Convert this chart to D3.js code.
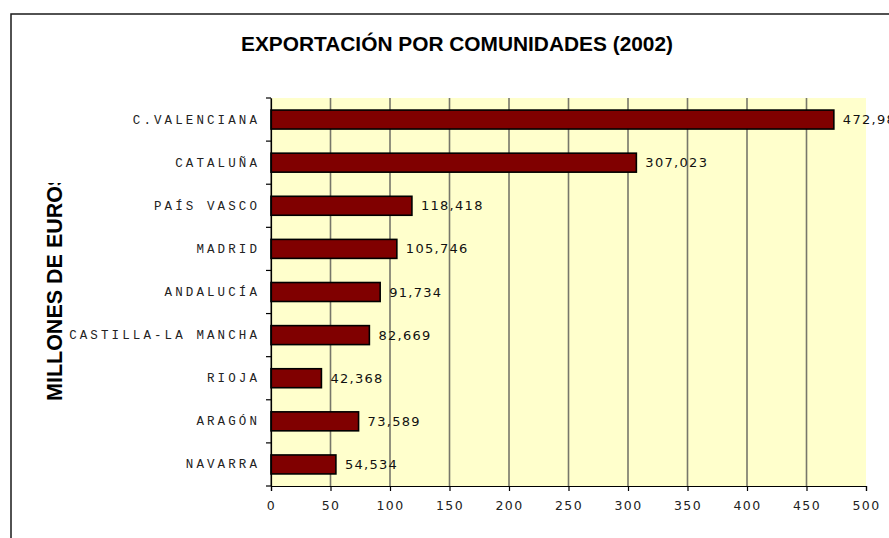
<!DOCTYPE html>
<html>
<head>
<meta charset="utf-8">
<script src="https://cdn.jsdelivr.net/npm/d3@7"></script>
<style>
  html, body { margin: 0; padding: 0; background: #ffffff; }
  svg { display: block; }
</style>
</head>
<body>
<div id="chart"></div>
<script>
// Exportaciones por comunidad autónoma, 2002 (millones de euros)
const categories = ["C.VALENCIANA", "CATALUÑA", "PAÍS VASCO", "MADRID", "ANDALUCÍA",
                    "CASTILLA-LA MANCHA", "RIOJA", "ARAGÓN", "NAVARRA"];
const values = [472.98, 307.023, 118.418, 105.746, 91.734, 82.669, 42.368, 73.589, 54.534];
const xTicks = [0, 50, 100, 150, 200, 250, 300, 350, 400, 450, 500];
const titleText = "EXPORTACIÓN POR COMUNIDADES (2002)";
const yTitleText = "MILLONES DE EUROS";

const W = 889, H = 538;
const plot = { left: 271, right: 866, top: 98, bottom: 486 };

const svg = d3.select("#chart").append("svg")
  .attr("width", W).attr("height", H);

// chart frame
svg.append("rect")
  .attr("x", 11).attr("y", 14)
  .attr("width", 1000).attr("height", 1000)
  .attr("fill", "#ffffff")
  .attr("stroke", "#1a1a1a").attr("stroke-width", 1.5);

const x = d3.scaleLinear().domain([0, 500]).range([plot.left, plot.right]);
const y = d3.scaleBand().domain(categories)
  .range([plot.top, plot.bottom])
  .paddingInner(0.56).paddingOuter(0.28);

// plot background
svg.append("rect")
  .attr("x", plot.left).attr("y", plot.top)
  .attr("width", plot.right - plot.left).attr("height", plot.bottom - plot.top)
  .attr("fill", "#ffffcc");

// vertical gridlines
svg.append("g").selectAll("line")
  .data(xTicks.filter(d => d < 500))
  .join("line")
  .attr("x1", d => x(d)).attr("x2", d => x(d))
  .attr("y1", plot.top).attr("y2", plot.bottom)
  .attr("stroke", "#77776a").attr("stroke-width", 1.6);

// bars
svg.append("g").selectAll("rect")
  .data(categories)
  .join("rect")
  .attr("x", x(0))
  .attr("y", d => y(d))
  .attr("width", (d, i) => x(values[i]) - x(0))
  .attr("height", y.bandwidth())
  .attr("fill", "#800000")
  .attr("stroke", "#000000").attr("stroke-width", 1.6);

// value labels
const es = d3.formatLocale({ decimal: ",", thousands: ".", grouping: [3], currency: ["", " €"] });
const fmt = es.format(".3f");
svg.append("g").selectAll("text")
  .data(categories)
  .join("text")
  .attr("x", (d, i) => x(values[i]) + 9)
  .attr("y", d => y(d) + y.bandwidth() / 2)
  .attr("dominant-baseline", "central")
  .attr("font-family", "DejaVu Sans, Verdana, sans-serif")
  .attr("font-size", 13)
  .attr("letter-spacing", 1.3)
  .attr("fill", "#111111")
  .text((d, i) => fmt(values[i]));

// x axis
const xAxis = svg.append("g")
  .attr("transform", `translate(0,${plot.bottom})`)
  .call(d3.axisBottom(x).tickValues(xTicks).tickSize(5).tickPadding(10).tickFormat(d3.format("d")));
xAxis.select(".domain").attr("stroke", "#000").attr("stroke-width", 1.2);
xAxis.selectAll(".tick line").attr("stroke", "#000").attr("stroke-width", 1.2);
xAxis.selectAll(".tick text")
  .attr("font-family", "DejaVu Sans, Verdana, sans-serif")
  .attr("font-size", 12.5)
  .attr("letter-spacing", 1.4)
  .attr("fill", "#222222");

// y axis: ticks sit on the category boundaries
const yAxis = svg.append("g")
  .attr("transform", `translate(${plot.left},0)`)
  .call(d3.axisLeft(y).tickSize(0).tickPadding(11));
yAxis.select(".domain").attr("stroke", "#000").attr("stroke-width", 1.2);
yAxis.selectAll(".tick text")
  .attr("font-family", "Liberation Mono, Courier New, monospace")
  .attr("font-size", 12.5)
  .attr("letter-spacing", 3.1)
  .attr("fill", "#222222");
const bounds = categories.map(c => y(c) - y.step() * y.paddingInner() / 2).concat([plot.bottom]);
yAxis.append("g").selectAll("line")
  .data(bounds)
  .join("line")
  .attr("x1", -5).attr("x2", 0)
  .attr("y1", d => d).attr("y2", d => d)
  .attr("stroke", "#000").attr("stroke-width", 1.2);

// title
svg.append("text")
  .attr("x", 457).attr("y", 51)
  .attr("text-anchor", "middle")
  .attr("font-family", "Liberation Sans, Arial, sans-serif")
  .attr("font-weight", "bold")
  .attr("font-size", 20)
  .attr("textLength", 432).attr("lengthAdjust", "spacingAndGlyphs")
  .attr("fill", "#000")
  .text(titleText);

// axis title, clipped at the top of its box
svg.append("clipPath").attr("id", "ytitle-clip")
  .append("rect").attr("x", 20).attr("y", 183).attr("width", 80).attr("height", 300);
svg.append("g").attr("clip-path", "url(#ytitle-clip)")
  .append("text")
  .attr("transform", "translate(55,401) rotate(-90)")
  .attr("dominant-baseline", "central")
  .attr("font-family", "Liberation Sans, Arial, sans-serif")
  .attr("font-weight", "bold")
  .attr("font-size", 21.5)
  .attr("fill", "#000")
  .text(yTitleText);
</script>
</body>
</html>
